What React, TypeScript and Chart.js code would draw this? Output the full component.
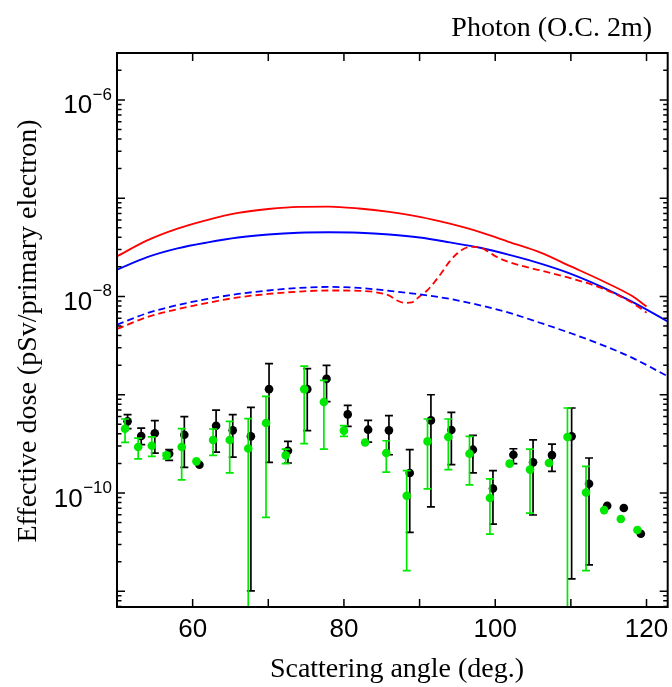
import React, { useEffect, useRef } from 'react';
import { Chart, registerables } from 'chart.js';

Chart.register(...registerables);

// ---- Curves (simulation) ----
const redSolidX = [50, 54, 58, 62, 66, 70, 74, 78, 82, 86, 90, 94, 98, 102, 106, 110, 114, 118, 120];
const redSolidY = [2.56e-8, 3.72e-8, 4.90e-8, 6.03e-8, 7.08e-8, 7.76e-8, 8.17e-8, 8.22e-8, 7.85e-8, 7.24e-8, 6.46e-8, 5.50e-8, 4.52e-8, 3.55e-8, 2.79e-8, 2.02e-8, 1.46e-8, 1.02e-8, 7.9e-9];

const blueSolidX = [50, 54, 58, 62, 66, 70, 74, 78, 82, 86, 90, 94, 98, 102, 106, 110, 114, 118, 122.8];
const blueSolidY = [1.87e-8, 2.51e-8, 3.08e-8, 3.55e-8, 3.98e-8, 4.27e-8, 4.45e-8, 4.50e-8, 4.45e-8, 4.27e-8, 3.98e-8, 3.55e-8, 3.13e-8, 2.63e-8, 2.16e-8, 1.70e-8, 1.26e-8, 8.9e-9, 5.58e-9];

const blueDashX = [50, 54, 58, 62, 66, 70, 74, 78, 82, 86, 90, 94, 98, 102, 106, 110, 114, 118, 122.8];
const blueDashY = [5.16e-9, 6.76e-9, 8.17e-9, 9.44e-9, 1.06e-8, 1.15e-8, 1.22e-8, 1.25e-8, 1.22e-8, 1.14e-8, 1.05e-8, 9.44e-9, 8.13e-9, 6.76e-9, 5.37e-9, 4.22e-9, 3.24e-9, 2.40e-9, 1.54e-9];

const redDashX = [50, 54, 58, 62, 66, 70, 74, 78, 82, 84, 86, 87, 88, 89, 90, 91, 92, 93, 94, 95, 96, 97, 98, 99, 100, 102, 106, 110, 114, 118, 120];
const redDashY = [4.67e-9, 6.17e-9, 7.41e-9, 8.61e-9, 9.77e-9, 1.06e-8, 1.12e-8, 1.15e-8, 1.14e-8, 1.11e-8, 1.02e-8, 9.12e-9, 8.61e-9, 8.71e-9, 1.0e-8, 1.15e-8, 1.41e-8, 1.78e-8, 2.29e-8, 2.75e-8, 3.09e-8, 3.20e-8, 3.16e-8, 2.88e-8, 2.57e-8, 2.21e-8, 1.84e-8, 1.53e-8, 1.22e-8, 8.71e-9, 6.84e-9];

// ---- Measured points (black) ----
const blackX = [51.4, 53.2, 55.0, 56.9, 58.9, 60.9, 63.1, 65.3, 67.7, 70.1, 72.6, 75.15, 77.7, 80.5, 83.2, 85.95, 88.7, 91.5, 94.2, 97.05, 99.7, 102.4, 105.0, 107.5, 110.1, 112.4, 114.8, 117.0, 119.25];
const blackY = [5.36e-10, 3.80e-10, 4.05e-10, 2.51e-10, 3.92e-10, 1.94e-10, 4.84e-10, 4.34e-10, 3.77e-10, 1.14e-9, 2.69e-10, 1.14e-9, 1.45e-9, 6.31e-10, 4.41e-10, 4.34e-10, 1.60e-10, 5.48e-10, 4.38e-10, 2.76e-10, 1.11e-10, 2.45e-10, 2.05e-10, 2.43e-10, 3.77e-10, 1.24e-10, 7.43e-11, 7.03e-11, 3.85e-11];
const blackHi = [6.27e-10, 4.58e-10, 5.45e-10, 2.76e-10, 5.98e-10, null, 6.98e-10, 6.27e-10, 7.43e-10, 2.07e-9, 3.35e-10, 1.84e-9, 1.99e-9, 7.80e-10, 5.48e-10, 6.12e-10, 2.76e-10, 1.00e-9, 6.62e-10, 3.86e-10, 1.69e-10, 2.82e-10, 3.48e-10, 3.15e-10, 7.33e-10, 2.27e-10, null, null, null];
const blackLo = [4.51e-10, 3.10e-10, 2.55e-10, 2.15e-10, 1.82e-10, null, 2.61e-10, 2.32e-10, 1.01e-11, 2.05e-10, 2.02e-10, 4.31e-10, 8.49e-10, 4.76e-10, 3.30e-10, 2.45e-10, 3.97e-11, 7.24e-11, 1.94e-10, 1.60e-10, 4.83e-11, 1.99e-10, 5.97e-11, 1.66e-10, 1.34e-11, 1.86e-11, null, null, null];

// ---- Measured points (green) ----
const greenX = [51.06, 52.8, 54.6, 56.55, 58.55, 60.5, 62.7, 64.9, 67.35, 69.7, 72.3, 74.75, 77.35, 80.0, 82.8, 85.6, 88.3, 91.05, 93.8, 96.6, 99.3, 101.9, 104.6, 107.1, 109.55, 112.0, 114.4, 116.6, 118.8];
const greenY = [4.51e-10, 2.94e-10, 3.03e-10, 2.42e-10, 2.94e-10, 2.10e-10, 3.46e-10, 3.46e-10, 2.84e-10, 5.15e-10, 2.42e-10, 1.14e-9, 8.43e-10, 4.31e-10, 3.27e-10, 2.55e-10, 9.38e-11, 3.35e-10, 3.72e-10, 2.51e-10, 8.89e-11, 1.99e-10, 1.73e-10, 2.02e-10, 3.72e-10, 1.01e-10, 6.70e-11, 5.43e-11, 4.20e-11];
const greenHi = [5.66e-10, 3.62e-10, 3.72e-10, 2.55e-10, 4.51e-10, null, 4.48e-10, 5.36e-10, 5.70e-10, 9.64e-10, 2.80e-10, 1.95e-9, 1.40e-9, 4.84e-10, null, 3.40e-10, 1.69e-10, 5.66e-10, 5.66e-10, 3.77e-10, 1.39e-10, null, 2.80e-10, null, 7.33e-10, 1.87e-10, null, null, null];
const greenLo = [3.27e-10, 2.23e-10, 2.36e-10, 2.23e-10, 1.36e-10, null, 2.42e-10, 1.60e-10, 3e-12, 5.65e-11, 1.99e-10, 3.18e-10, 2.80e-10, 3.77e-10, null, 1.63e-10, 1.62e-11, 1.10e-10, 1.73e-10, 1.21e-10, 3.82e-11, null, 6.25e-11, null, 3e-12, 1.62e-11, null, null, null];

// ---- Axes ----
const xMin = 50;
const xMax = 122.8;
const yMin = 6.92e-12;
const yMax = 3.0e-6;
const xTickValues = [50, 60, 70, 80, 90, 100, 110, 120];
const xLabelValues = [60, 80, 100, 120];
const yLabelExponents = [-6, -8, -10];

const TITLE = 'Photon (O.C. 2m)';
const X_TITLE = 'Scattering angle (deg.)';
const Y_TITLE = 'Effective dose (pSv/primary electron)';

const BLACK = '#000000';
const GREEN = '#00e800';
const RED = '#ff0000';
const BLUE = '#0000ff';

const SERIF = '"Liberation Serif", "Times New Roman", serif';
const SANS = '"Liberation Sans", Arial, sans-serif';

const zip = (xs: number[], ys: number[]) => xs.map((x, i) => ({ x, y: ys[i] }));

const errorBars: Record<string, { xs: number[]; hi: (number | null)[]; lo: (number | null)[]; color: string }> = {
  black: { xs: blackX, hi: blackHi, lo: blackLo, color: BLACK },
  green: { xs: greenX, hi: greenHi, lo: greenLo, color: GREEN },
};

const customPlugin = {
  id: 'customFrame',
  beforeDatasetDraw(chart: any, args: any) {
    const ds = chart.data.datasets[args.index];
    const eb = errorBars[ds.label];
    if (!eb) return;
    const { ctx, chartArea: a } = chart;
    const xs = chart.scales.x;
    const ys = chart.scales.y;
    ctx.save();
    ctx.beginPath();
    ctx.rect(a.left, a.top, a.right - a.left, a.bottom - a.top);
    ctx.clip();
    ctx.strokeStyle = eb.color;
    ctx.lineWidth = 1.7;
    const cap = 4;
    for (let i = 0; i < eb.xs.length; i++) {
      const h = eb.hi[i];
      const l = eb.lo[i];
      if (h == null || l == null) continue;
      const px = xs.getPixelForValue(eb.xs[i]);
      const yh = ys.getPixelForValue(h);
      const yl = ys.getPixelForValue(l);
      ctx.beginPath();
      ctx.moveTo(px, yh);
      ctx.lineTo(px, yl);
      ctx.moveTo(px - cap, yh);
      ctx.lineTo(px + cap, yh);
      ctx.moveTo(px - cap, yl);
      ctx.lineTo(px + cap, yl);
      ctx.stroke();
    }
    ctx.restore();
  },
  afterDraw(chart: any) {
    const { ctx, chartArea: a } = chart;
    const xs = chart.scales.x;
    const ys = chart.scales.y;
    ctx.save();
    ctx.strokeStyle = '#000';
    ctx.fillStyle = '#000';
    ctx.lineWidth = 1.5;
    ctx.beginPath();
    for (const v of xTickValues) {
      const px = xs.getPixelForValue(v);
      if (px <= a.left + 1 || px >= a.right - 1) continue;
      ctx.moveTo(px, a.bottom);
      ctx.lineTo(px, a.bottom - 8);
      ctx.moveTo(px, a.top);
      ctx.lineTo(px, a.top + 8);
    }
    const e0 = Math.floor(Math.log10(yMin));
    const e1 = Math.ceil(Math.log10(yMax));
    for (let e = e0; e <= e1; e++) {
      for (let k = 1; k <= 9; k++) {
        const v = k * Math.pow(10, e);
        if (v <= yMin || v >= yMax) continue;
        const py = ys.getPixelForValue(v);
        const len = k === 1 ? 8 : 4.5;
        ctx.moveTo(a.left, py);
        ctx.lineTo(a.left + len, py);
        ctx.moveTo(a.right, py);
        ctx.lineTo(a.right - len, py);
      }
    }
    ctx.stroke();
    ctx.lineWidth = 2;
    ctx.strokeRect(a.left, a.top, a.right - a.left, a.bottom - a.top);

    for (const ex of yLabelExponents) {
      const py = ys.getPixelForValue(Math.pow(10, ex));
      const sup = '\u2212' + String(-ex);
      ctx.font = '17px ' + SANS;
      ctx.textAlign = 'right';
      ctx.textBaseline = 'alphabetic';
      const supW = ctx.measureText(sup).width;
      const right = a.left - 5;
      ctx.fillText(sup, right, py);
      ctx.font = '26px ' + SANS;
      ctx.fillText('10', right - supW - 0.5, py + 13.5);
    }

    ctx.font = '26px ' + SANS;
    ctx.textAlign = 'center';
    ctx.textBaseline = 'alphabetic';
    for (const v of xLabelValues) {
      ctx.fillText(String(v), xs.getPixelForValue(v), a.bottom + 30);
    }

    ctx.font = '28px ' + SERIF;
    ctx.textAlign = 'right';
    ctx.fillText(TITLE, 652, 36);
    ctx.textAlign = 'center';
    ctx.fillText(X_TITLE, 397, 677);
    ctx.save();
    ctx.translate(36, 331);
    ctx.rotate(-Math.PI / 2);
    ctx.textAlign = 'center';
    ctx.fillText(Y_TITLE, 0, 0);
    ctx.restore();
    ctx.restore();
  },
};

export default function App() {
  const ref = useRef<HTMLCanvasElement | null>(null);
  useEffect(() => {
    if (!ref.current) return;
    const lineDs = (label: string, xs: number[], ys: number[], color: string, dashed: boolean, order: number) => ({
      label,
      data: zip(xs, ys),
      showLine: true,
      borderColor: color,
      backgroundColor: color,
      borderWidth: 1.8,
      borderDash: dashed ? [7, 4] : [],
      pointRadius: 0,
      cubicInterpolationMode: 'monotone' as const,
      order,
    });
    const chart = new Chart(ref.current, {
      type: 'scatter',
      data: {
        datasets: [
          {
            label: 'green',
            data: zip(greenX, greenY),
            pointRadius: 4.3,
            pointBackgroundColor: GREEN,
            pointBorderWidth: 0,
            showLine: false,
            order: 0,
          },
          {
            label: 'black',
            data: zip(blackX, blackY),
            pointRadius: 4.3,
            pointBackgroundColor: BLACK,
            pointBorderWidth: 0,
            showLine: false,
            order: 1,
          },
          lineDs('blueDash', blueDashX, blueDashY, BLUE, true, 2),
          lineDs('redDash', redDashX, redDashY, RED, true, 3),
          lineDs('blueSolid', blueSolidX, blueSolidY, BLUE, false, 4),
          lineDs('redSolid', redSolidX, redSolidY, RED, false, 5),
        ] as any,
      },
      options: {
        animation: false,
        responsive: false,
        maintainAspectRatio: false,
        layout: { padding: { top: 53, right: 3, left: 0, bottom: 0 } },
        plugins: { legend: { display: false }, tooltip: { enabled: false }, title: { display: false } },
        events: [],
        scales: {
          x: {
            type: 'linear',
            min: xMin,
            max: xMax,
            afterBuildTicks: (s: any) => {
              s.ticks = xTickValues.map((v) => ({ value: v }));
            },
            ticks: { display: false, autoSkip: false },
            grid: { display: false, drawTicks: false },
            border: { display: false },
            afterFit: (s: any) => {
              s.height = 80;
            },
          },
          y: {
            type: 'logarithmic',
            min: yMin,
            max: yMax,
            ticks: { display: false, autoSkip: false },
            grid: { display: false, drawTicks: false },
            border: { display: false },
            afterFit: (s: any) => {
              s.width = 117;
            },
          },
        },
      },
      plugins: [customPlugin],
    });
    return () => chart.destroy();
  }, []);
  return (
    <div style={{ position: 'absolute', left: 0, top: 0, width: 672, height: 687, background: '#fff' }}>
      <canvas ref={ref} width={672} height={687} style={{ display: 'block' }} />
    </div>
  );
}
